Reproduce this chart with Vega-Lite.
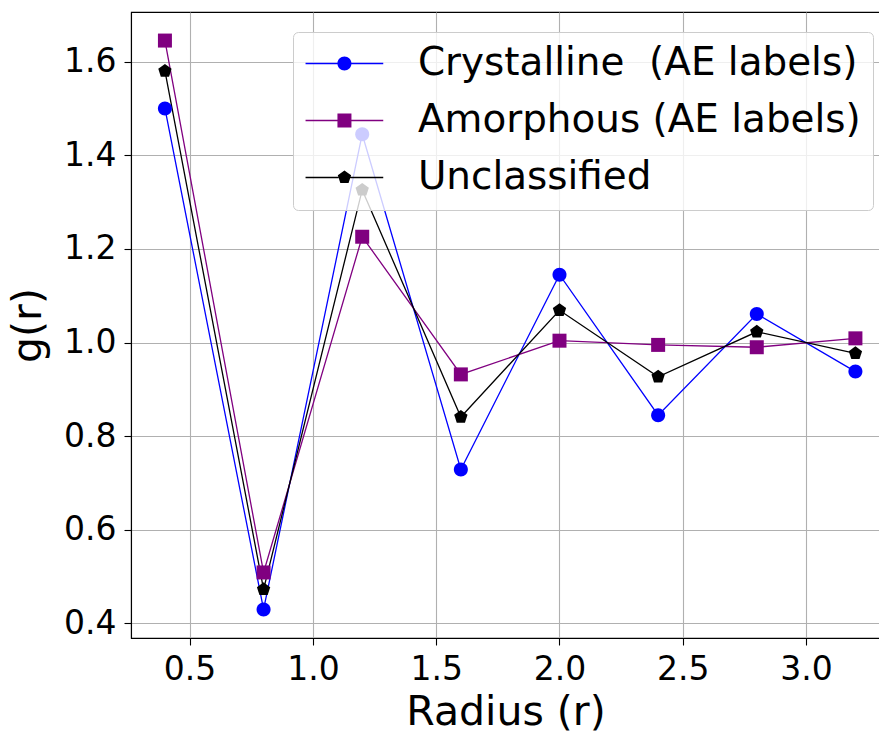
{
  "$schema": "https://vega.github.io/schema/vega-lite/v6.json",
  "autosize": "none",
  "width": 749,
  "height": 626,
  "padding": {"left": 131, "top": 12, "right": 0, "bottom": 95},
  "background": "white",
  "config": {
    "view": {"stroke": "black", "strokeWidth": 1.1},
    "axis": {
      "domainColor": "black", "domainWidth": 1.1,
      "tickColor": "black", "tickWidth": 1.1, "tickSize": 7,
      "labelFont": "DejaVu Sans", "labelFontSize": 33, "labelColor": "black", "labelPadding": 8,
      "labelOverlap": false, "labelFlush": false,
      "titleFont": "DejaVu Sans", "titleFontSize": 41, "titleFontWeight": "normal", "titleColor": "black",
      "gridColor": "#b0b0b0", "gridWidth": 1.1, "gridOpacity": 1
    }
  },
  "data": {"values": [
    {"r": 0.4, "series": "Crystalline\u00a0 (AE labels)", "g": 1.500},
    {"r": 0.8, "series": "Crystalline\u00a0 (AE labels)", "g": 0.430},
    {"r": 1.2, "series": "Crystalline\u00a0 (AE labels)", "g": 1.445},
    {"r": 1.6, "series": "Crystalline\u00a0 (AE labels)", "g": 0.729},
    {"r": 2.0, "series": "Crystalline\u00a0 (AE labels)", "g": 1.145},
    {"r": 2.4, "series": "Crystalline\u00a0 (AE labels)", "g": 0.845},
    {"r": 2.8, "series": "Crystalline\u00a0 (AE labels)", "g": 1.061},
    {"r": 3.2, "series": "Crystalline\u00a0 (AE labels)", "g": 0.938},
    {"r": 0.4, "series": "Amorphous (AE labels)", "g": 1.645},
    {"r": 0.8, "series": "Amorphous (AE labels)", "g": 0.509},
    {"r": 1.2, "series": "Amorphous (AE labels)", "g": 1.226},
    {"r": 1.6, "series": "Amorphous (AE labels)", "g": 0.932},
    {"r": 2.0, "series": "Amorphous (AE labels)", "g": 1.004},
    {"r": 2.4, "series": "Amorphous (AE labels)", "g": 0.995},
    {"r": 2.8, "series": "Amorphous (AE labels)", "g": 0.990},
    {"r": 3.2, "series": "Amorphous (AE labels)", "g": 1.009},
    {"r": 0.4, "series": "Unclassified", "g": 1.580},
    {"r": 0.8, "series": "Unclassified", "g": 0.473},
    {"r": 1.2, "series": "Unclassified", "g": 1.326},
    {"r": 1.6, "series": "Unclassified", "g": 0.841},
    {"r": 2.0, "series": "Unclassified", "g": 1.069},
    {"r": 2.4, "series": "Unclassified", "g": 0.927},
    {"r": 2.8, "series": "Unclassified", "g": 1.023},
    {"r": 3.2, "series": "Unclassified", "g": 0.977}
  ]},
  "encoding": {
    "x": {"field": "r", "type": "quantitative",
      "scale": {"domain": [0.2624, 3.2997], "nice": false, "zero": false},
      "axis": {"values": [0.5, 1.0, 1.5, 2.0, 2.5, 3.0], "format": ".1f", "title": "Radius (r)", "titlePadding": 6}},
    "y": {"field": "g", "type": "quantitative",
      "scale": {"domain": [0.369, 1.706], "nice": false, "zero": false},
      "axis": {"values": [0.4, 0.6, 0.8, 1.0, 1.2, 1.4, 1.6], "format": ".1f", "title": "g(r)", "titlePadding": 14}}
  },
  "layer": [
    {
      "mark": {"type": "line", "strokeWidth": 1.3},
      "encoding": {
        "color": {"field": "series", "type": "nominal",
          "scale": {"domain": ["Crystalline\u00a0 (AE labels)", "Amorphous (AE labels)", "Unclassified"], "range": ["#0000ff", "#800080", "#000000"]},
          "legend": null},
        "order": {"field": "r", "type": "quantitative"}
      }
    },
    {
      "mark": {"type": "point", "filled": true, "opacity": 1, "size": 196},
      "encoding": {
        "color": {"field": "series", "type": "nominal",
          "scale": {"domain": ["Crystalline\u00a0 (AE labels)", "Amorphous (AE labels)", "Unclassified"], "range": ["#0000ff", "#800080", "#000000"]},
          "legend": null},
        "shape": {"field": "series", "type": "nominal",
          "scale": {"domain": ["Crystalline\u00a0 (AE labels)", "Amorphous (AE labels)", "Unclassified"],
            "range": ["M-1,0A1,1 0 1,1 1,0A1,1 0 1,1 -1,0Z", "M-1,-1H1V1H-1Z", "M0,-1L0.951,-0.309L0.588,0.809L-0.588,0.809L-0.951,-0.309Z"]},
          "legend": null}
      }
    },
    {
      "transform": [{"filter": "datum.r < 0"}],
      "mark": {"type": "point", "filled": true, "size": 196},
      "encoding": {
        "color": {"field": "series", "type": "nominal",
          "scale": {"domain": ["Crystalline\u00a0 (AE labels)", "Amorphous (AE labels)", "Unclassified"], "range": ["#0000ff", "#800080", "#000000"]},
          "legend": {"orient": "none", "legendX": 162, "legendY": 20, "title": null,
            "labelFont": "DejaVu Sans", "labelFontSize": 38.9, "labelColor": "black", "labelLimit": 0, "labelOffset": 74,
            "symbolSize": 196, "symbolOpacity": 1, "symbolStrokeWidth": 0,
            "padding": 12, "rowPadding": 17,
            "fillColor": "rgba(255,255,255,0.8)", "strokeColor": "#cccccc", "cornerRadius": 5}},
        "shape": {"field": "series", "type": "nominal",
          "scale": {"domain": ["Crystalline\u00a0 (AE labels)", "Amorphous (AE labels)", "Unclassified"],
            "range": [
              "M-2.7,-0.1H1.9V0.1H-2.7Z M3.8,-0.1H8.4V0.1H3.8Z M1.857,0A1,1 0 1,1 3.857,0A1,1 0 1,1 1.857,0Z",
              "M-2.7,-0.1H1.9V0.1H-2.7Z M3.8,-0.1H8.4V0.1H3.8Z M1.857,-1H3.857V1H1.857Z",
              "M-2.7,-0.1H2.0V0.1H-2.7Z M3.7,-0.1H8.4V0.1H3.7Z M2.857,-1L3.808,-0.309L3.445,0.809L2.269,0.809L1.906,-0.309Z"
            ]},
          "legend": {"orient": "none", "legendX": 162, "legendY": 20, "title": null,
            "labelFont": "DejaVu Sans", "labelFontSize": 38.9, "labelColor": "black", "labelLimit": 0, "labelOffset": 74,
            "symbolSize": 196, "symbolOpacity": 1, "symbolStrokeWidth": 0,
            "padding": 12, "rowPadding": 17,
            "fillColor": "rgba(255,255,255,0.8)", "strokeColor": "#cccccc", "cornerRadius": 5}}
      }
    }
  ],
  "resolve": {"scale": {"color": "independent", "shape": "independent"}}
}
